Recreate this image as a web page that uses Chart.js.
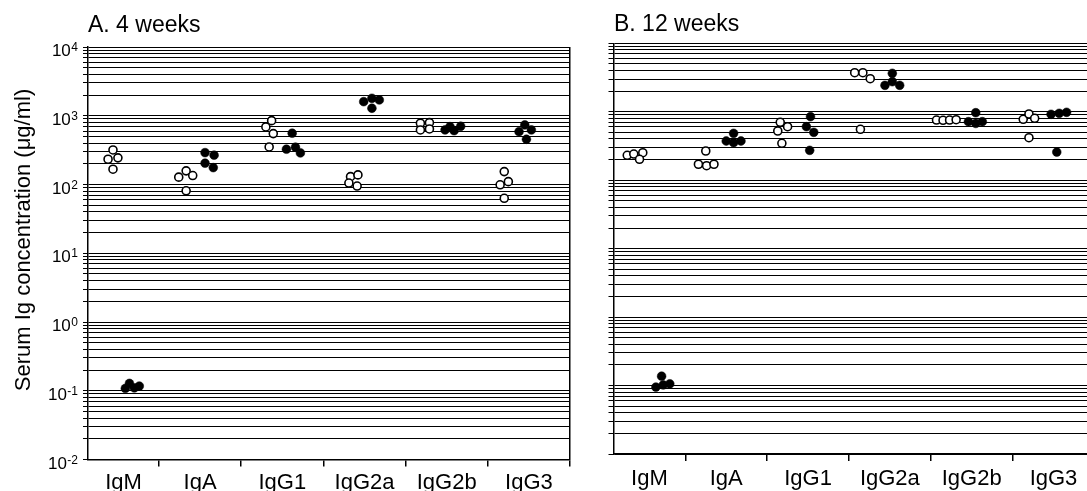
<!DOCTYPE html>
<html>
<head>
<meta charset="utf-8">
<script src="https://cdn.jsdelivr.net/npm/chart.js@4.4.0/dist/chart.umd.min.js"></script>
<style>
  body { margin: 0; background: #fff; overflow: hidden; width: 1087px; height: 491px; position: relative; }
  canvas { position: absolute; top: 0; }
  #chartA { left: 0; }
  #chartB { left: 580px; }
</style>
</head>
<body>
<canvas id="chartA" width="580" height="491"></canvas>
<canvas id="chartB" width="520" height="491"></canvas>
<script>
const FONT = '"Liberation Sans", Arial, Helvetica, sans-serif';

const categories = ["IgM", "IgA", "IgG1", "IgG2a", "IgG2b", "IgG3"];
const tickExponents = [-2, -1, 0, 1, 2, 3, 4];
const yTitle = "Serum Ig concentration (\u03bcg/ml)";

// A. 4 weeks - open circles (left group) and filled circles (right group)
const wk4OpenY = [
  [318, 233, 244, 167],
  [128, 158, 135, 81],
  [849, 687, 550, 352],
  [130, 138, 105, 95],
  [778, 794, 622, 643],
  [154, 99, 110, 63],
];
const wk4OpenX = [
  [0.44, 0.38, 0.5, 0.44],
  [1.24, 1.33, 1.41, 1.33],
  [2.37, 2.3, 2.39, 2.34],
  [3.33, 3.42, 3.31, 3.41],
  [4.18, 4.29, 4.18, 4.29],
  [5.2, 5.15, 5.25, 5.2],
];
const wk4FilledY = [
  [0.108, 0.128, 0.11, 0.117],
  [291, 267, 204, 176],
  [557, 326, 349, 288],
  [1603, 1795, 1698, 1285],
  [622, 695, 607, 703],
  [587, 735, 622, 455],
];
const wk4FilledX = [
  [0.59, 0.64, 0.7, 0.76],
  [1.56, 1.67, 1.56, 1.66],
  [2.62, 2.55, 2.66, 2.72],
  [3.49, 3.59, 3.68, 3.59],
  [4.48, 4.54, 4.59, 4.67],
  [5.38, 5.45, 5.53, 5.47],
];

// B. 12 weeks
const wk12OpenY = [
  [231, 241, 252, 202],
  [267, 171, 163, 171],
  [701, 605, 523, 346],
  [3720, 3720, 3040, 554],
  [757, 750, 757, 765],
  [776, 927, 803, 418],
];
const wk12OpenX = [
  [0.29, 0.37, 0.48, 0.44],
  [1.25, 1.16, 1.26, 1.35],
  [2.16, 2.25, 2.13, 2.18],
  [3.07, 3.17, 3.26, 3.14],
  [4.07, 4.15, 4.23, 4.31],
  [5.13, 5.2, 5.27, 5.2],
];
const wk12FilledY = [
  [0.095, 0.137, 0.102, 0.106],
  [374, 484, 374, 353],
  [847, 605, 501, 273],
  [3645, 2433, 2748, 2433],
  [716, 968, 675, 716],
  [918, 949, 982, 258],
];
const wk12FilledX = [
  [0.64, 0.71, 0.73, 0.81],
  [1.5, 1.59, 1.68, 1.59],
  [2.53, 2.48, 2.57, 2.52],
  [3.53, 3.44, 3.53, 3.62],
  [4.46, 4.55, 4.55, 4.63],
  [5.47, 5.57, 5.66, 5.54],
];

function toPoints(xs, ys) {
  const pts = [];
  xs.forEach((row, i) => row.forEach((x, j) => pts.push({ x: x, y: ys[i][j] })));
  return pts;
}

// gridline at every 1..9 x 10^n
function logTicks() {
  const t = [];
  for (let e = -2; e < 4; e++) {
    for (let k = 1; k <= 9; k++) t.push({ value: Number((k * Math.pow(10, e)).toPrecision(2)) });
  }
  t.push({ value: 10000 });
  return t;
}

function catTicks(min) {
  const t = [];
  categories.forEach((c, i) => {
    t.push({ value: i === 0 ? (min + 1) / 2 : i + 0.5, cat: c });
    t.push({ value: i + 1 });
  });
  return t;
}

// panel title, y tick labels with superscripts, y axis title
const decor = {
  id: "decor",
  afterDraw(chart, args, o) {
    const ctx = chart.ctx;
    const y = chart.scales.y;
    ctx.save();
    ctx.fillStyle = "#000";
    ctx.textAlign = "left";
    ctx.textBaseline = "alphabetic";
    ctx.font = "23px " + FONT;
    ctx.fillText(o.title, o.titleX, o.titleY);
    if (o.yLabels) {
      tickExponents.forEach((e) => {
        const py = y.getPixelForValue(Math.pow(10, e));
        const right = y.right - 10;
        ctx.font = "12px " + FONT;
        const es = String(e);
        const ew = ctx.measureText(es).width;
        ctx.fillText(es, right - ew, py + 4);
        ctx.font = "17px " + FONT;
        const bw = ctx.measureText("10").width;
        ctx.fillText("10", right - ew - bw - 0.5, py + 9);
      });
      ctx.translate(o.yTitleX, o.yTitleY);
      ctx.rotate(-Math.PI / 2);
      ctx.textAlign = "center";
      ctx.textBaseline = "middle";
      ctx.font = "22px " + FONT;
      ctx.fillText(yTitle, 0, 0);
    }
    ctx.restore();
  },
};

function makePanel(id, cfg) {
  const ctx = document.getElementById(id).getContext("2d");
  return new Chart(ctx, {
    type: "scatter",
    data: {
      datasets: [
        {
          data: toPoints(cfg.openX, cfg.openY),
          pointRadius: 4,
          pointBorderWidth: 1.6,
          pointBackgroundColor: "#fff",
          pointBorderColor: "#000",
        },
        {
          data: toPoints(cfg.filledX, cfg.filledY),
          pointRadius: 4.4,
          pointBorderWidth: 0.5,
          pointBackgroundColor: "#000",
          pointBorderColor: "#000",
        },
      ],
    },
    options: {
      responsive: false,
      animation: false,
      layout: { padding: cfg.padding },
      plugins: {
        legend: { display: false },
        tooltip: { enabled: false },
        decor: cfg.decor,
      },
      scales: {
        x: {
          type: "linear",
          min: cfg.xMin,
          max: 6,
          afterBuildTicks: (scale) => { scale.ticks = catTicks(cfg.xMin); },
          afterFit: (scale) => { scale.height = cfg.xHeight; },
          ticks: {
            autoSkip: false,
            maxRotation: 0,
            minRotation: 0,
            padding: cfg.labelPad,
            color: "#000",
            font: { family: FONT, size: 22 },
            callback: (value, index, ticks) => ticks[index].cat || "",
          },
          grid: {
            drawOnChartArea: true,
            tickLength: 7,
            color: (c) => (c.tick && c.tick.value === 6 ? "#000" : "rgba(0,0,0,0)"),
            lineWidth: 1.5,
            tickColor: (c) => (c.tick && c.tick.cat ? "rgba(0,0,0,0)" : "#000"),
            tickWidth: 1.5,
          },
          border: { display: true, color: "#000", width: 1.5 },
        },
        y: {
          type: "logarithmic",
          min: 0.01,
          max: 10000,
          afterBuildTicks: (scale) => { scale.ticks = logTicks(); },
          afterFit: (scale) => { scale.width = cfg.yWidth; },
          ticks: { display: false },
          grid: {
            color: "#000",
            lineWidth: 1,
            tickLength: 5,
            tickColor: "#000",
            tickWidth: 1,
          },
          border: { display: true, color: "#000", width: 1.5 },
        },
      },
    },
    plugins: [decor],
  });
}

makePanel("chartA", {
  openX: wk4OpenX, openY: wk4OpenY, filledX: wk4FilledX, filledY: wk4FilledY,
  xMin: 0.136, xHeight: 31.5, yWidth: 88, labelPad: 3,
  padding: { left: 0, top: 47, right: 10, bottom: 0 },
  decor: { title: "A. 4 weeks", titleX: 88, titleY: 32, yLabels: true, yTitleX: 24, yTitleY: 240 },
});

makePanel("chartB", {
  openX: wk12OpenX, openY: wk12OpenY, filledX: wk12FilledX, filledY: wk12FilledY,
  xMin: 0.122, xHeight: 37, yWidth: 33.5, labelPad: 5,
  padding: { left: 0, top: 43.3, right: 5, bottom: 0 },
  decor: { title: "B. 12 weeks", titleX: 34, titleY: 31, yLabels: false },
});
</script>
</body>
</html>
